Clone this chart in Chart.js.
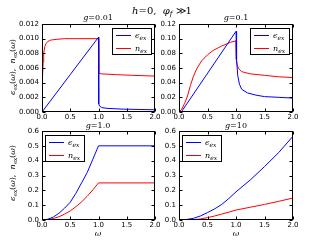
<!DOCTYPE html>
<html>
<head>
<meta charset="utf-8">
<script src="https://cdn.jsdelivr.net/npm/chart.js@4.4.1/dist/chart.umd.min.js"></script>
<style>
  body { margin: 0; background: #fff; width: 325px; height: 245px; position: relative; overflow: hidden; }
  canvas { position: absolute; left: 0; top: 0; }
  .t { position: absolute; white-space: nowrap; transform: translate(-50%, -50%); font-family: "DejaVu Serif", serif; color: #000; }
  .t i { font-style: italic; }
  .t sub { font-size: 70%; vertical-align: -2px; line-height: 0; }
  .rot { transform: translate(-50%, -50%) rotate(-90deg); }
</style>
</head>
<body>
<canvas id="c1" width="325" height="245"></canvas>
<canvas id="c2" width="325" height="245"></canvas>
<canvas id="c3" width="325" height="245"></canvas>
<canvas id="c4" width="325" height="245"></canvas>

<div class="t" style="left:162px;top:10px;font-size:10px"><i>h</i>=0,&nbsp; <i>φ<sub>f</sub></i> ≫1</div>
<div class="t" style="left:98px;top:17px;font-size:8px"><i>g</i>=0.01</div>
<div class="t" style="left:236px;top:17px;font-size:8px"><i>g</i>=0.1</div>
<div class="t" style="left:98px;top:125px;font-size:8px"><i>g</i>=1.0</div>
<div class="t" style="left:236px;top:125px;font-size:8px"><i>g</i>=10</div>
<div class="t rot" style="left:12px;top:67px;font-size:8px"><i>ϵ</i><sub>ex</sub>(<i>ω</i>),&nbsp; <i>n</i><sub>ex</sub>(<i>ω</i>)</div>
<div class="t rot" style="left:12px;top:173px;font-size:8px"><i>ϵ</i><sub>ex</sub>(<i>ω</i>),&nbsp; <i>n</i><sub>ex</sub>(<i>ω</i>)</div>
<div class="t" style="left:98px;top:233px;font-size:8px"><i>ω</i></div>
<div class="t" style="left:236px;top:233px;font-size:8px"><i>ω</i></div>

<script>
// axis ticks
const xTicks = [0, 0.5, 1.0, 1.5, 2.0];

// g = 0.01
const eps001W = [0, 0.5, 1.0, 1.004, 1.02, 1.06, 1.15, 1.4, 1.7, 2.0];
const eps001 = [0, 0.0051, 0.0102, 0.0011, 0.0008, 0.0006, 0.0005, 0.0004, 0.00035, 0.0003];
const n001W = [0, 0.005, 0.01, 0.02, 0.03, 0.05, 0.07, 0.1, 0.15, 0.25, 0.4, 0.6, 1.0, 1.004, 1.05, 1.3, 1.6, 2.0];
const n001 = [0, 0.0025, 0.0045, 0.0068, 0.0080, 0.0089, 0.0093, 0.0096, 0.0098, 0.0099, 0.0100, 0.0100, 0.0100, 0.0053, 0.0052, 0.0051, 0.0050, 0.0049];

// g = 0.1
const eps01W = [0, 0.04, 1.0, 1.01, 1.03, 1.06, 1.1, 1.2, 1.35, 1.5, 1.75, 2.0];
const eps01 = [0, 0, 0.110, 0.072, 0.050, 0.038, 0.031, 0.026, 0.023, 0.021, 0.020, 0.019];
const n01W = [0, 0.05, 0.1, 0.15, 0.2, 0.25, 0.3, 0.35, 0.4, 0.5, 0.6, 0.75, 0.9, 1.0, 1.005, 1.02, 1.05, 1.1, 1.25, 1.5, 1.75, 2.0];
const n01 = [0, 0.004, 0.012, 0.022, 0.036, 0.048, 0.057, 0.064, 0.070, 0.078, 0.084, 0.090, 0.095, 0.097, 0.072, 0.064, 0.059, 0.055, 0.052, 0.050, 0.048, 0.047];

// g = 1.0
const w1 = [0, 0.1, 0.2, 0.3, 0.4, 0.5, 0.6, 0.7, 0.8, 0.9, 1.0, 2.0];
const eps1 = [0, 0.005, 0.02, 0.045, 0.08, 0.12, 0.18, 0.25, 0.32, 0.41, 0.50, 0.50];
const n1 = [0, 0.0025, 0.01, 0.022, 0.04, 0.061, 0.09, 0.122, 0.16, 0.203, 0.25, 0.25];

// g = 10
const w10 = [0, 0.125, 0.25, 0.375, 0.5, 0.625, 0.75, 0.875, 1.0, 1.25, 1.5, 1.75, 2.0];
const eps10 = [0, 0.003, 0.011, 0.027, 0.05, 0.075, 0.105, 0.145, 0.19, 0.27, 0.36, 0.455, 0.565];
const n10 = [0, 0.0005, 0.002, 0.007, 0.016, 0.027, 0.040, 0.053, 0.067, 0.086, 0.105, 0.126, 0.148];

const BLUE = '#0000ff';
const RED = '#ff0000';
const tickFont = { family: 'DejaVu Sans', size: 7 };

// box around the plot area, inward ticks, legend
const frame = {
  id: 'frame',
  afterDraw(chart, args, opts) {
    const { ctx, chartArea: a, scales } = chart;
    const L = Math.round(a.left) + 0.5, R = Math.round(a.right) - 0.5;
    const T = Math.round(a.top) + 0.5, B = Math.round(a.bottom) - 0.5;
    ctx.save();
    ctx.strokeStyle = '#000';
    ctx.lineWidth = 1;
    ctx.beginPath();
    scales.x.ticks.forEach(t => {
      const p = Math.round(scales.x.getPixelForValue(t.value)) + 0.5;
      ctx.moveTo(p, B); ctx.lineTo(p, B - 3);
      ctx.moveTo(p, T); ctx.lineTo(p, T + 3);
    });
    scales.y.ticks.forEach(t => {
      const p = Math.round(scales.y.getPixelForValue(t.value)) + 0.5;
      ctx.moveTo(L, p); ctx.lineTo(L + 3, p);
      ctx.moveTo(R, p); ctx.lineTo(R - 3, p);
    });
    ctx.stroke();
    ctx.strokeRect(L, T, R - L, B - T);

    // legend
    const w = 40, h = 27;
    const lx = opts.side === 'right' ? Math.round(a.right) - 3 - w : Math.round(a.left) + 3;
    const ly = Math.round(a.top) + 4;
    ctx.fillStyle = '#fff';
    ctx.fillRect(lx, ly, w, h);
    ctx.strokeStyle = '#000';
    ctx.strokeRect(lx + 0.5, ly + 0.5, w - 1, h - 1);
    const items = [['ϵ', BLUE], ['n', RED]];
    items.forEach(([sym, col], i) => {
      const y = ly + 7 + i * 13;
      ctx.fillStyle = col;
      ctx.fillRect(lx + 4, y, 15, 1);
      ctx.fillStyle = '#000';
      ctx.textBaseline = 'alphabetic';
      ctx.font = 'italic 8px "DejaVu Serif"';
      ctx.fillText(sym, lx + 23, y + 2.5);
      const sw = ctx.measureText(sym).width;
      ctx.font = 'italic 6px "DejaVu Serif"';
      ctx.fillText('ex', lx + 23 + sw, y + 4.5);
    });
    ctx.restore();
  }
};

function series(ws, vs, color) {
  return {
    data: ws.map((w, i) => ({ x: w, y: vs[i] })),
    borderColor: color,
    borderWidth: 1,
    pointRadius: 0,
    fill: false,
    tension: 0
  };
}

function makeChart(id, pad, ymax, ystep, ydec, datasets, side) {
  return new Chart(document.getElementById(id), {
    type: 'line',
    data: { datasets: datasets },
    options: {
      responsive: false,
      animation: false,
      events: [],
      layout: { padding: pad },
      plugins: { legend: { display: false }, tooltip: { enabled: false }, frame: { side: side } },
      scales: {
        x: {
          type: 'linear', min: 0, max: 2,
          afterBuildTicks: s => { s.ticks = xTicks.map(v => ({ value: v })); },
          ticks: { callback: v => v.toFixed(1), font: tickFont, color: '#000', padding: 1, maxRotation: 0, autoSkip: false },
          grid: { display: false, drawTicks: false },
          border: { display: false },
          afterFit: s => { s.height = 12; }
        },
        y: {
          min: 0, max: ymax,
          ticks: { stepSize: ystep, callback: v => v.toFixed(ydec), font: tickFont, color: '#000', padding: 3, autoSkip: false },
          grid: { display: false, drawTicks: false },
          border: { display: false },
          afterFit: s => { s.width = 30; }
        }
      }
    },
    plugins: [frame]
  });
}

makeChart('c1', { left: 12, right: 170, top: 24, bottom: 121 }, 0.012, 0.002, 3,
  [series(eps001W, eps001, BLUE), series(n001W, n001, RED)], 'right');
makeChart('c2', { left: 149, right: 32, top: 24, bottom: 121 }, 0.12, 0.02, 2,
  [series(eps01W, eps01, BLUE), series(n01W, n01, RED)], 'right');
makeChart('c3', { left: 12, right: 170, top: 131, bottom: 13 }, 0.6, 0.1, 1,
  [series(w1, eps1, BLUE), series(w1, n1, RED)], 'left');
makeChart('c4', { left: 149, right: 32, top: 131, bottom: 13 }, 0.6, 0.1, 1,
  [series(w10, eps10, BLUE), series(w10, n10, RED)], 'left');
</script>
</body>
</html>
